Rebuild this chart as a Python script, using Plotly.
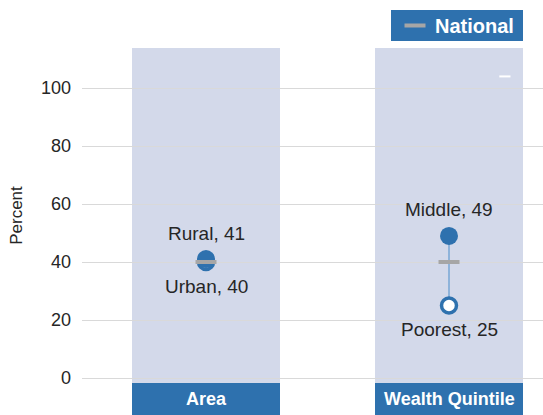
import plotly.graph_objects as go

# ---- data ----
groups = ["Area", "Wealth Quintile"]
high_labels = ["Rural", "Middle"]
high_values = [41, 49]
low_labels = ["Urban", "Poorest"]
low_values = [40, 25]
national = [40, 40]
y_ticks = [0, 20, 40, 60, 80, 100]
stray_mark_x = [1.23]
stray_mark_y = [104]

BLUE = "#2E71AE"
COL_BG = "#D3D9EA"
GRAY = "#A6A6A6"
LINE_BLUE = "#8EB3DA"
TXT = "#262626"
FONT = "Liberation Sans, Arial, sans-serif"

ML = 82
PW = 543 - ML
PH = 335
Y0, Y1 = -1.72, 113.8
c0, c1 = 206, 449          # pixel centres of the two columns
unit = c1 - c0
XL = -(c0 - ML) / unit
XR = 1 + (543 - c1) / unit
HALF = 74 / unit

def px_x(p):
    return (p - ML) / PW

def px_y(p):
    return 1 + (48 - p) / PH

xs = list(range(len(groups)))
fig = go.Figure()

for i in xs:
    fig.add_trace(go.Scatter(x=[i, i], y=[low_values[i], high_values[i]], mode="lines",
                             line=dict(color=LINE_BLUE, width=2), showlegend=False, hoverinfo="skip"))
fig.add_trace(go.Scatter(x=xs, y=low_values, mode="markers",
                         marker=dict(size=15, color="white", line=dict(color=BLUE, width=3.5)),
                         showlegend=False))
fig.add_trace(go.Scatter(x=xs, y=high_values, mode="markers",
                         marker=dict(size=18, color=BLUE, line=dict(width=0)),
                         showlegend=False))
fig.add_trace(go.Scatter(x=xs, y=national, mode="markers", name="National",
                         marker=dict(symbol="line-ew", size=15, line=dict(color=GRAY, width=4)),
                         showlegend=True))
fig.add_trace(go.Scatter(x=stray_mark_x, y=stray_mark_y, mode="markers",
                         marker=dict(symbol="line-ew", size=8, line=dict(color="white", width=2)),
                         showlegend=False, hoverinfo="skip"))

for i, g in enumerate(groups):
    fig.add_shape(type="rect", xref="x", yref="y", x0=i - HALF, x1=i + HALF, y0=Y0, y1=Y1,
                  fillcolor=COL_BG, line_width=0, layer="below")
    fig.add_shape(type="rect", xref="x", yref="paper", x0=i - HALF, x1=i + HALF, y0=-0.12, y1=0,
                  fillcolor=BLUE, line_width=0, layer="above")
    fig.add_annotation(x=i, xref="x", y=px_y(399), yref="paper", yanchor="middle",
                       text="<b>" + g + "</b>",
                       showarrow=False, font=dict(family=FONT, size=18, color="white"))
    fig.add_annotation(x=i, y=high_values[i], text=f"{high_labels[i]}, {high_values[i]}",
                       showarrow=False, yshift=26, font=dict(family=FONT, size=19, color=TXT))
    fig.add_annotation(x=i, y=low_values[i], text=f"{low_labels[i]}, {low_values[i]}",
                       showarrow=False, yshift=-24, font=dict(family=FONT, size=19, color=TXT))

# legend box
fig.add_shape(type="rect", xref="paper", yref="paper", x0=px_x(391), x1=px_x(523),
              y0=px_y(41), y1=px_y(10), fillcolor=BLUE, line_width=0, layer="above")

fig.update_layout(
    width=543, height=415,
    margin=dict(l=ML, r=0, t=48, b=32),
    paper_bgcolor="white", plot_bgcolor="white",
    xaxis=dict(range=[XL, XR], showgrid=False, zeroline=False, showticklabels=False, fixedrange=True),
    yaxis=dict(range=[Y0, Y1], tickvals=y_ticks, showgrid=True, gridcolor="#D9D9D9", gridwidth=1,
               zeroline=False, ticks="", ticklabelstandoff=10,
               tickfont=dict(family=FONT, size=18, color=TXT),
               title=dict(text="Percent", standoff=14, font=dict(family=FONT, size=17, color=TXT))),
    legend=dict(x=px_x(395), xanchor="left", y=px_y(6), yanchor="top", bgcolor="rgba(0,0,0,0)",
                font=dict(family=FONT, size=20, color="white", weight="bold"),
                itemwidth=30, tracegroupgap=0, borderwidth=0),
    showlegend=True,
)

fig.write_html("out.html", config={"displayModeBar": False},
               post_script="document.body.style.margin='0';document.body.style.overflow='hidden';")
